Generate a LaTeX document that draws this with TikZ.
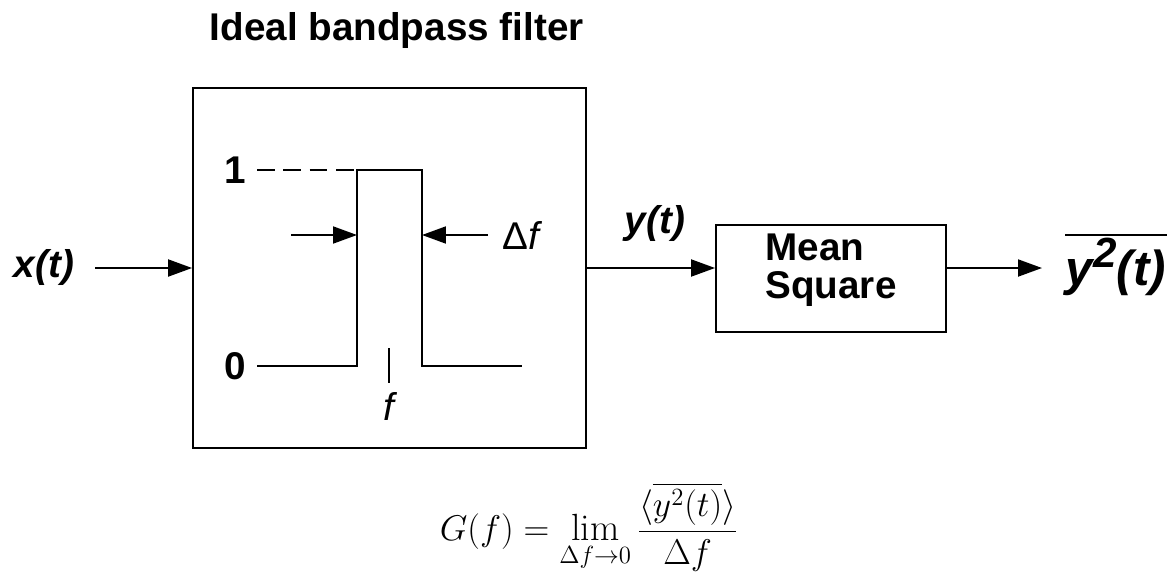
\documentclass[tikz,border=0pt]{standalone}
\usepackage{amsmath}
\usepackage{fontspec}
\newfontfamily\hv{Liberation Sans}
\usetikzlibrary{arrows.meta, positioning}

\begin{document}
\begin{tikzpicture}[
  x=0.02cm, y=-0.02cm,
  line width=1.1pt,
  every node/.style={font=\hv\fontsize{22}{24}\selectfont},
  block/.style={rectangle, draw, line width=1.1pt, inner sep=0pt},
  boldlabel/.style={font=\hv\bfseries\fontsize{22}{21.5}\selectfont},
  bolditalic/.style={font=\hv\bfseries\itshape\fontsize{22}{24}\selectfont},
  sig/.style={-{Triangle[length=0.48cm, width=0.34cm]}},
]
\useasboundingbox (0,0) rectangle (1167,572);

% Title
\node[boldlabel, anchor=west] (title) at (203, 31) {Ideal bandpass filter};

% Blocks
\node[block, minimum width=7.86cm, minimum height=7.2cm] (filter) at (389.5, 268) {};
\node[block, minimum width=4.6cm, minimum height=2.14cm] (msq) at (831, 278.5) {};
\node[boldlabel, align=left] (msqlabel) at (831, 270) {Mean\\Square};

% Signals
\node[bolditalic] (xin) at (44, 268) {x(t)};
\node[bolditalic] (yt) at (655, 224) {y(t)};
\node[font=\hv\bfseries\itshape\fontsize{28}{30}\selectfont, anchor=base west] (yout) at (1059, 285)
  {y\raisebox{0.36em}{\fontsize{24}{24}\selectfont 2}(t)};
\coordinate (xsrc) at (95, 268);
\coordinate (fout) at (filter.east |- xsrc);
\coordinate (msqin) at (msq.west |- xsrc);
\coordinate (msqout) at (msq.east |- xsrc);
\coordinate (yend) at (1042, 268);
\draw[sig] (xsrc) -- (filter.west |- xsrc);
\draw[sig] (fout) -- (msqin);
\draw[sig] (msqout) -- (yend);
\draw[line width=1.7pt] (1065, 235) -- (1167, 235);

% Passband response
\node[boldlabel, anchor=east] (one) at (253, 170) {1};
\node[boldlabel, anchor=east] (zero) at (253, 366) {0};
\coordinate (bl) at (357, 366);
\coordinate (tl) at (357, 170);
\coordinate (tr) at (422, 170);
\coordinate (br) at (422, 366);
\draw[dash pattern=on 10pt off 5pt] (one.east) ++(4,0) -- (tl);
\draw (zero.east) ++(4,0) -- (bl) -- (tl) -- (tr) -- (br) -- (522, 366);

% Bandwidth
\node[anchor=west] (df) at (496, 235) {Δ\textit{f}};
\coordinate (dfl) at (291, 235);
\draw[sig] (dfl) -- (tl |- dfl);
\draw[sig] (df.west) ++(-8,0) -- (tr |- df);

% Centre frequency
\coordinate (ftick) at (389, 348);
\draw (ftick) -- ++(0, 35);
\node[font=\hv\itshape\fontsize{22}{24}\selectfont] (fc) at (389, 406) {f};

% Definition
\node[inner sep=0pt] (def) at (589, 527)
  {\scalebox{0.98}{$\displaystyle G(f) = \lim_{\Delta f\to 0}\frac{\langle\overline{y^2(t)}\rangle}{\Delta f}$}};
\end{tikzpicture}
\end{document}
